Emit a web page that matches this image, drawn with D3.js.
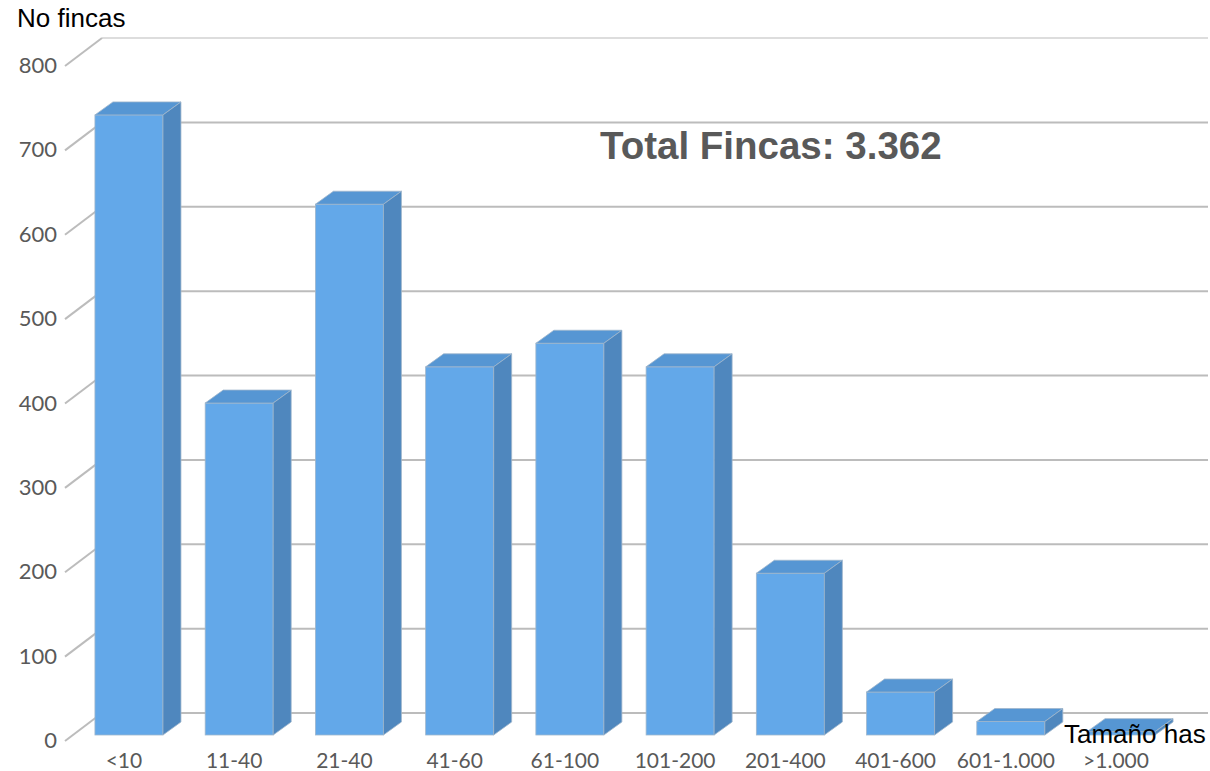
<!DOCTYPE html>
<html>
<head>
    <meta charset="utf-8">
    <title>No fincas por tamaño</title>
    <script src="https://d3js.org/d3.v7.min.js"></script>
    <style>
        body { margin: 0; background: #fff; }
    </style>
</head>
<body>
    <div id="chart"></div>

    <script>
        // datos del gráfico
        const categories = ["<10", "11-40", "21-40", "41-60", "61-100", "101-200", "201-400", "401-600", "601-1.000", ">1.000"];
        const fincas = [736, 394, 630, 437, 465, 437, 192, 51, 16, 4];
        const yTicks = [0, 100, 200, 300, 400, 500, 600, 700, 800];

        const width = 1210, height = 771;

        const svg = d3.select("#chart")
            .append("svg")
            .attr("width", width)
            .attr("height", height);

        // escalas
        const x = d3.scaleBand()
            .domain(categories)
            .range([74, 1176])
            .paddingInner(0.383)
            .paddingOuter(0.19);

        // eje en el plano frontal (etiquetas) y plano de las barras
        const yFront = d3.scaleLinear().domain([0, 800]).range([741, 66]);
        const yBar = d3.scaleLinear().domain([0, 800]).range([735, 61]);

        const wallDx = 37, wallDy = -28;   // profundidad de la pared
        const barDx = 18, barDy = -13;     // profundidad de las barras

        // líneas de la pared del fondo
        svg.selectAll(".grid")
            .data(yTicks)
            .enter().append("line")
            .attr("class", "grid")
            .attr("x1", 65 + wallDx)
            .attr("x2", 1208)
            .attr("y1", d => yFront(d) + wallDy)
            .attr("y2", d => yFront(d) + wallDy)
            .attr("stroke", "#bcbcbc")
            .attr("stroke-width", d => d === 800 ? 1.2 : 2);

        // diagonales de la pared lateral
        svg.selectAll(".diag")
            .data(yTicks)
            .enter().append("line")
            .attr("class", "diag")
            .attr("x1", 65)
            .attr("y1", d => yFront(d))
            .attr("x2", 65 + wallDx)
            .attr("y2", d => yFront(d) + wallDy)
            .attr("stroke", "#bcbcbc")
            .attr("stroke-width", 2);

        // etiquetas del eje Y
        svg.selectAll(".ylab")
            .data(yTicks)
            .enter().append("text")
            .attr("class", "ylab")
            .attr("x", 57)
            .attr("y", d => yFront(d) + 7)
            .attr("text-anchor", "end")
            .attr("font-family", "Lato, sans-serif")
            .attr("font-size", 22)
            .attr("fill", "#595959")
            .text(d => d);

        // barras 3D
        const bars = svg.selectAll(".bar")
            .data(categories.map((c, i) => ({ c: c, v: fincas[i] })))
            .enter().append("g")
            .attr("class", "bar");

        const bw = x.bandwidth();

        // cara frontal
        bars.append("rect")
            .attr("x", d => x(d.c))
            .attr("y", d => yBar(d.v))
            .attr("width", bw)
            .attr("height", d => yBar(0) - yBar(d.v))
            .attr("fill", "#63a8e9")
            .attr("stroke", "#9fb6cc")
            .attr("stroke-width", 0.8);

        // cara superior
        bars.append("path")
            .attr("d", d => {
                const x0 = x(d.c), y0 = yBar(d.v);
                return `M${x0},${y0} L${x0 + barDx},${y0 + barDy} L${x0 + bw + barDx},${y0 + barDy} L${x0 + bw},${y0} Z`;
            })
            .attr("fill", "#5696d3")
            .attr("stroke", "#9fb6cc")
            .attr("stroke-width", 0.8);

        // cara lateral
        bars.append("path")
            .attr("d", d => {
                const x1 = x(d.c) + bw, yt = yBar(d.v), yb = yBar(0);
                return `M${x1},${yt} L${x1 + barDx},${yt + barDy} L${x1 + barDx},${yb + barDy} L${x1},${yb} Z`;
            })
            .attr("fill", "#4f87be")
            .attr("stroke", "#9fb6cc")
            .attr("stroke-width", 0.8);

        // etiquetas del eje X
        svg.selectAll(".xlab")
            .data(categories)
            .enter().append("text")
            .attr("class", "xlab")
            .attr("x", d => x(d) + bw / 2 - 5)
            .attr("y", 768)
            .attr("text-anchor", "middle")
            .attr("font-family", "Lato, sans-serif")
            .attr("font-size", 21)
            .attr("fill", "#595959")
            .text(d => d);

        // títulos
        svg.append("text")
            .attr("x", 17)
            .attr("y", 27)
            .attr("font-family", "Liberation Sans, Arial, sans-serif")
            .attr("font-size", 26)
            .attr("fill", "#000")
            .text("No fincas");

        svg.append("text")
            .attr("x", 1064)
            .attr("y", 743)
            .attr("font-family", "Liberation Sans, Arial, sans-serif")
            .attr("font-size", 26)
            .attr("fill", "#000")
            .text("Tamaño has");

        svg.append("text")
            .attr("x", 600)
            .attr("y", 159)
            .attr("font-family", "Liberation Sans, Arial, sans-serif")
            .attr("font-size", 38.5)
            .attr("font-weight", "bold")
            .attr("fill", "#595959")
            .text("Total Fincas: 3.362");
    </script>
</body>
</html>
